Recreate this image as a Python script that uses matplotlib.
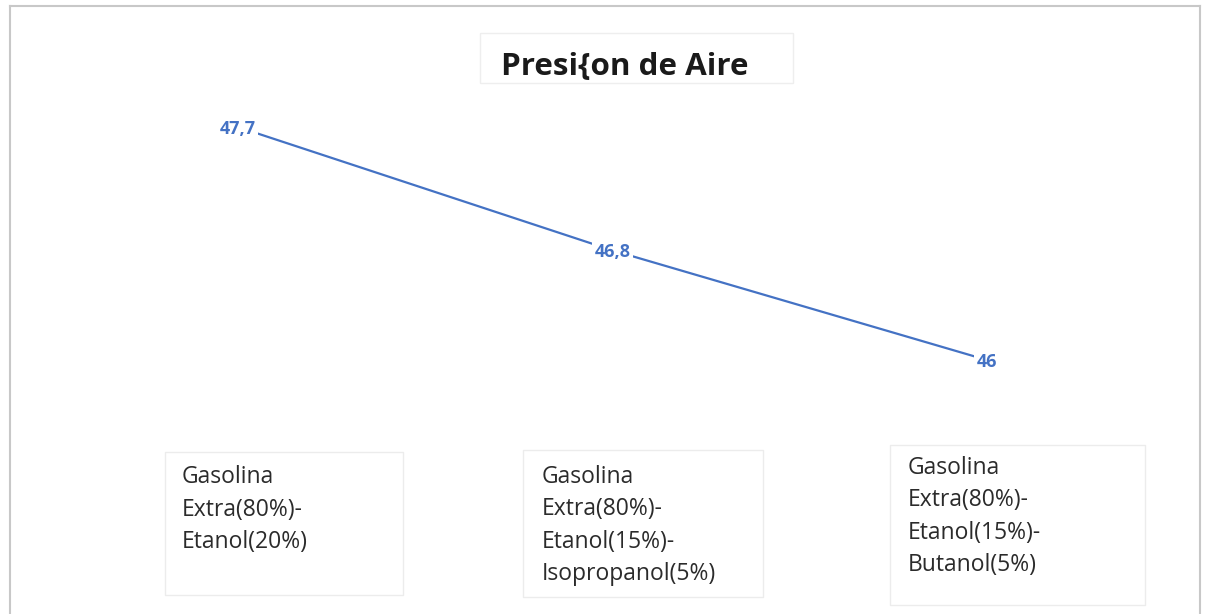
import matplotlib
matplotlib.use("Agg")
import matplotlib.pyplot as plt
from matplotlib.patches import Rectangle
from matplotlib.lines import Line2D

# ---- data ----
title = "Presi{on de Aire"
categories = [
    "Gasolina\nExtra(80%)-\nEtanol(20%)",
    "Gasolina\nExtra(80%)-\nEtanol(15%)-\nIsopropanol(5%)",
    "Gasolina\nExtra(80%)-\nEtanol(15%)-\nButanol(5%)",
]
values = [47.7, 46.8, 46.0]
value_labels = ["47,7", "46,8", "46"]

# ---- layout (pixels) ----
W, H = 1205, 614
LINE_COLOR = "#4472C4"
FONT = ["Open Sans", "DejaVu Sans"]
LINE_STEP = 32  # px between category-label baselines
CAT_SIZE = 16.5

# category label boxes: left, top, right, bottom ; text left, first baseline
cat_boxes = [
    (165, 452, 403, 595, 182, 484),
    (523, 450, 763, 597, 542, 484),
    (890, 445, 1145, 605, 908, 475),
]

fig = plt.figure(figsize=(W / 100, H / 100), dpi=100)
fig.patch.set_facecolor("white")


def fx(px):
    return px / W


def fy(py):
    return 1 - py / H


# plot area
ax = fig.add_axes([fx(51), fy(428.5), (1174 - 51) / W, (428.5 - 86) / H])
ax.set_xlim(-0.5, 2.5)
ax.set_ylim(45.5, 48.0)
ax.axis("off")

x = list(range(len(values)))
ax.plot(x, values, color=LINE_COLOR, lw=1.6, solid_capstyle="butt", zorder=2)
for xi, v, s in zip(x, values, value_labels):
    ax.text(xi, v, s, ha="center", va="center_baseline", fontsize=13,
            fontweight="bold", color=LINE_COLOR, family=FONT, zorder=3,
            bbox=dict(boxstyle="square,pad=0.12", fc="white", ec="none"))

# title box
fig.patches.append(Rectangle((fx(480), fy(83)), (793 - 480) / W, (83 - 33) / H,
                             transform=fig.transFigure, fc="white",
                             ec="#eeeeee", lw=1.0))
fig.text(fx(501), fy(64), title, ha="left", va="center_baseline",
         fontsize=22.6, fontweight="bold", color="#1a1a1a", family=FONT)

# category label boxes
for (l, t, r, b, tx, ty), lab in zip(cat_boxes, categories):
    fig.patches.append(Rectangle((fx(l), fy(b)), (r - l) / W, (b - t) / H,
                                 transform=fig.transFigure, fc="white",
                                 ec="#ececec", lw=1.0))
    n_lines = lab.count("\n") + 1
    last_baseline = ty + (n_lines - 1) * LINE_STEP
    fig.text(fx(tx), fy(last_baseline), lab, ha="left", va="baseline",
             fontsize=CAT_SIZE, color="#2b2b2b", family=FONT,
             linespacing=1.47)

# outer chart border (left, top, right)
bc = "#c8c8c8"
fig.lines.append(Line2D([fx(10), fx(10)], [fy(6), fy(614)],
                        transform=fig.transFigure, color=bc, lw=1.5))
fig.lines.append(Line2D([fx(10), fx(1200)], [fy(6), fy(6)],
                        transform=fig.transFigure, color=bc, lw=1.5))
fig.lines.append(Line2D([fx(1200), fx(1200)], [fy(6), fy(614)],
                        transform=fig.transFigure, color=bc, lw=1.5))

fig.savefig("out.png", dpi=100, facecolor="white")
